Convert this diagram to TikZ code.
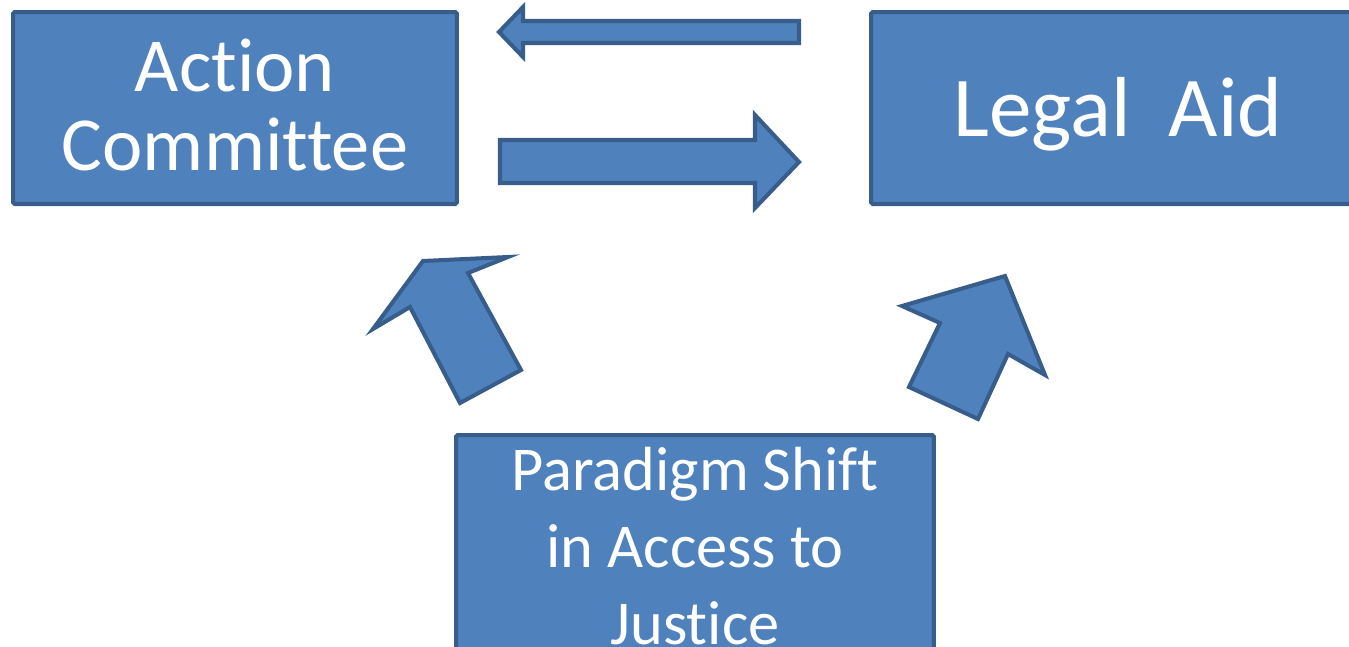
\documentclass[tikz,border=0pt]{standalone}
\usepackage{fontspec}
\setmainfont[RawFeature={-liga}]{Carlito}
\usepackage{xcolor}
\usepackage{tikz}
\definecolor{boxfill}{HTML}{4F81BD}
\definecolor{boxline}{HTML}{385D8A}

\begin{document}
\begin{tikzpicture}[x=0.02cm,y=-0.02cm,
   box/.style={draw=boxline,fill=boxfill,line width=2.3pt,rounded corners=1pt,inner sep=0pt,text=white,align=center},
   boxtext/.style={text=white,align=center},
   blockarrow/.style={draw=boxline,fill=boxfill,line width=2.3pt,line join=miter}]
   \useasboundingbox (0,0) rectangle (1349,646);
   \clip (0,0) rectangle (1349,646);
   \node[box,minimum width=8.88cm,minimum height=3.84cm] (action) at (235,108) {};
   \node[boxtext,font={\fontsize{43.5}{45}\selectfont}] at (action.center) [yshift=0.06cm] {Action\\Committee};
   \node[box,minimum width=9.88cm,minimum height=3.84cm] (legal) at (1118,108) {};
   \node[boxtext,font={\fontsize{48.5}{58}\selectfont}] at (legal.center) [yshift=-0.12cm] {Legal\ \ Aid};
   \node[box,minimum width=9.56cm,minimum height=4.44cm,font={\fontsize{35.5}{43.7}\selectfont}] (shift) at (695,546) {Paradigm Shift\\in Access to\\Justice};
   \draw[blockarrow] (799,21) -- (523,21) -- (523,7) -- (499,32) -- (523,57) -- (523,43) -- (799,43) -- cycle;
   \draw[blockarrow] (500,140) -- (755,140) -- (755,115) -- (799,162) -- (755,208) -- (755,183) -- (500,183) -- cycle;
   \draw[blockarrow] (460,403) -- (410,307) -- (373,329) -- (423,261) -- (508,257) -- (468,273) -- (521,370) -- cycle;
   \draw[blockarrow] (909,387) -- (940,323) -- (902,306) -- (1005,276) -- (1045,375) -- (1008,354) -- (978,419) -- cycle;
\end{tikzpicture}
\end{document}
